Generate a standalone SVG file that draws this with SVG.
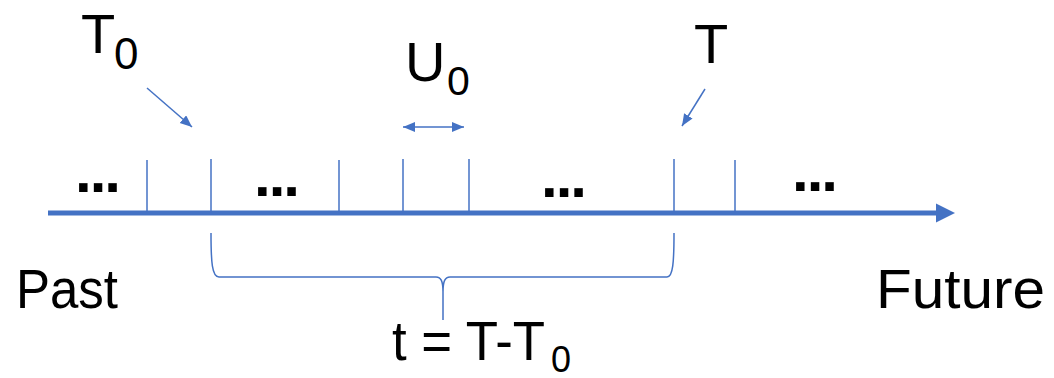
<svg xmlns="http://www.w3.org/2000/svg" width="1054" height="378" viewBox="0 0 1054 378">
<style>
.lbl{font-family:"Liberation Sans",Arial,sans-serif;fill:#000}
.dots{font-family:"Liberation Sans",Arial,sans-serif;font-weight:bold;font-size:60px;letter-spacing:-2px;fill:#000}
.tick{stroke:#4472C4;stroke-width:1.5;fill:none}
.thin{stroke:#4472C4;stroke-width:1.5;fill:none}
</style>
<defs>
<marker id="ah" markerUnits="userSpaceOnUse" markerWidth="14" markerHeight="12" refX="12" refY="5" orient="auto-start-reverse">
<path d="M0,0 L12,5 L0,10 z" fill="#4472C4"/>
</marker>
</defs>
<rect width="1054" height="378" fill="#fff"/>
<g id="axis">
<line x1="48" y1="213" x2="938" y2="213" stroke="#4472C4" stroke-width="5"/>
<polygon points="936,203.5 955,213 936,222.5" fill="#4472C4"/>
</g>
<g id="ticks">
<line class="tick" x1="147" y1="160" x2="147" y2="213"/>
<line class="tick" x1="211" y1="159" x2="211" y2="213"/>
<line class="tick" x1="339" y1="160" x2="339" y2="213"/>
<line class="tick" x1="403" y1="159" x2="403" y2="213"/>
<line class="tick" x1="469" y1="159" x2="469" y2="213"/>
<line class="tick" x1="674" y1="159" x2="674" y2="213"/>
<line class="tick" x1="735" y1="160" x2="735" y2="213"/>
</g>
<g id="dots">
<text class="dots" x="75" y="192">...</text>
<text class="dots" x="254" y="196">...</text>
<text class="dots" x="541" y="197">...</text>
<text class="dots" x="792" y="191">...</text>
</g>
<g id="label-T0">
<text class="lbl"><tspan x="81" y="53" font-size="56">T</tspan><tspan x="114" y="69" font-size="44">0</tspan></text>
</g>
<g id="label-U0">
<text class="lbl"><tspan x="405" y="81" font-size="56">U</tspan><tspan x="447" y="95" font-size="41">0</tspan></text>
</g>
<g id="label-T">
<text class="lbl" x="694" y="63" font-size="56">T</text>
</g>
<g id="label-past">
<text class="lbl" x="16" y="308" font-size="55" textLength="102" lengthAdjust="spacingAndGlyphs">Past</text>
</g>
<g id="label-future">
<text class="lbl" x="876" y="308" font-size="55" textLength="169" lengthAdjust="spacingAndGlyphs">Future</text>
</g>
<g id="label-t">
<text class="lbl"><tspan x="392" y="360" font-size="55" textLength="153" lengthAdjust="spacingAndGlyphs">t = T-T</tspan><tspan x="551" y="372" font-size="36">0</tspan></text>
</g>
<g id="connectors">
<line class="thin" x1="147" y1="88" x2="192" y2="127" marker-end="url(#ah)"/>
<line class="thin" x1="705" y1="89" x2="682" y2="126" marker-end="url(#ah)"/>
<line class="thin" x1="403" y1="127" x2="464" y2="127" marker-start="url(#ah)" marker-end="url(#ah)"/>
<path class="thin" d="M211,233 C211,262 212,277 219,277 H436 C441,277 443,281 443,292 V320 M443,292 C443,281 445,277 450,277 H667 C673,277 674,262 674,233"/>
</g>
</svg>
